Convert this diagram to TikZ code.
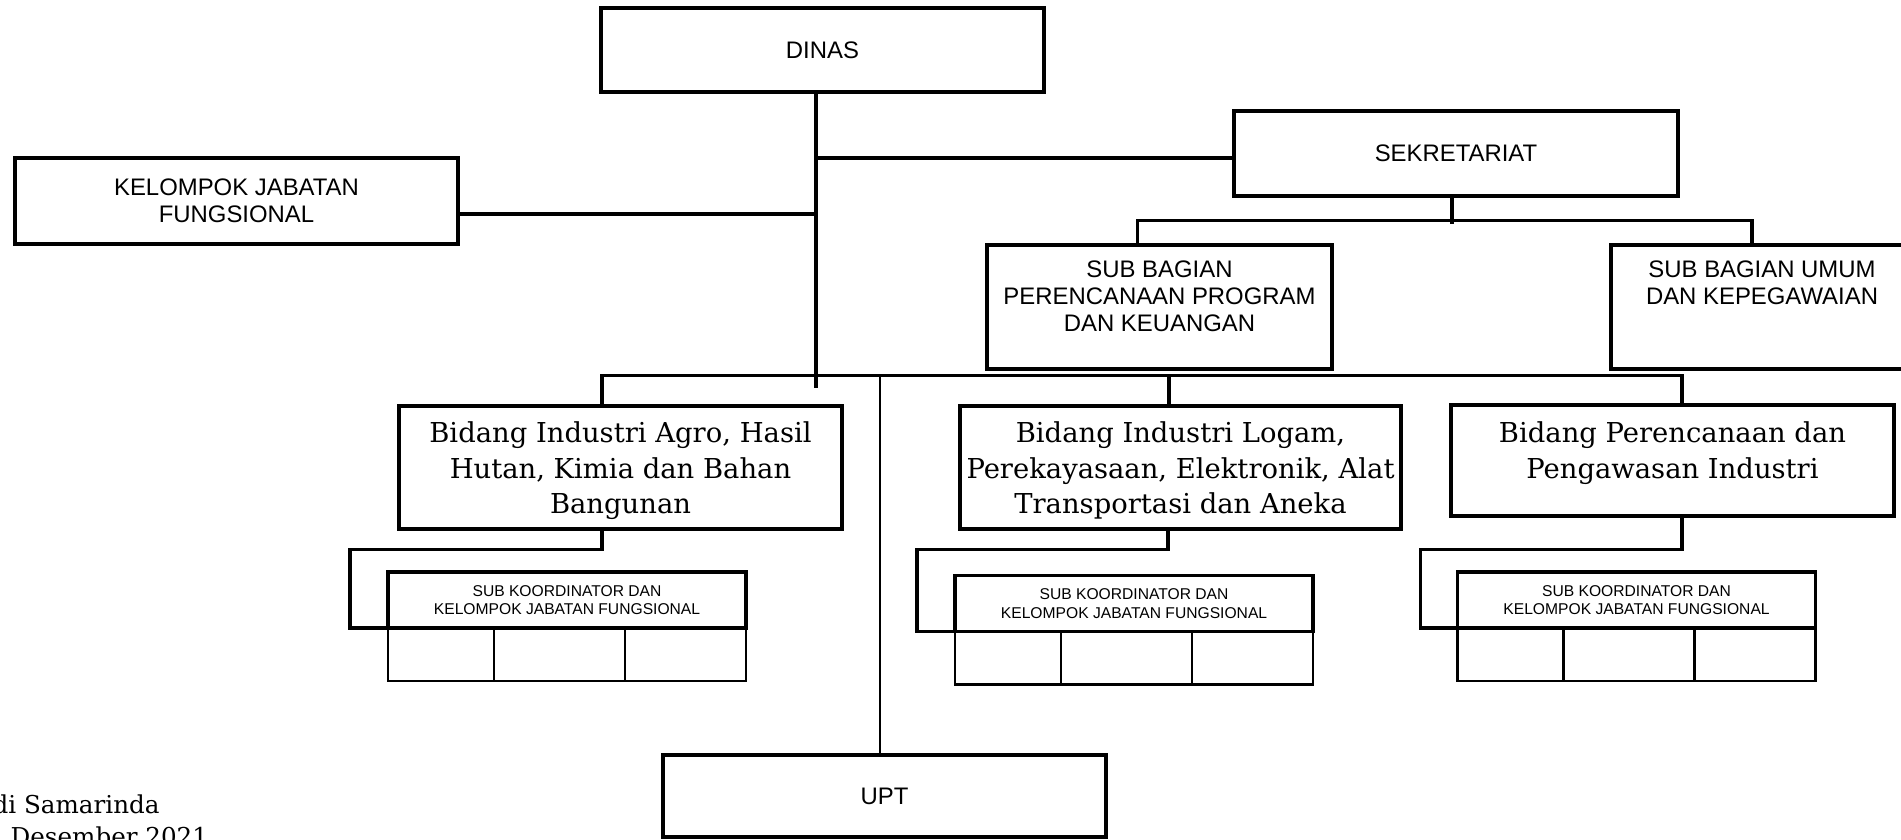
\documentclass[tikz,border=0pt]{standalone}
\usepackage{fontspec}
\setmainfont{DejaVu Serif}
\newfontfamily\arialfont{Liberation Sans}
\usetikzlibrary{positioning, calc}

\begin{document}
\begin{tikzpicture}[
    x=0.1mm, y=-0.1mm,
    unit/.style={rectangle, draw, line width=0.33mm, minimum width=44.3mm, inner sep=0pt, align=center, font=\arialfont\fontsize{6.8}{7.6}\selectfont},
    frame/.style={rectangle, draw, line width=0.33mm, inner sep=0pt},
    toptext/.style={inner sep=0pt, align=center, font=\arialfont\fontsize{6.8}{7.6}\selectfont},
    bidtext/.style={inner sep=0pt, align=center, font=\fontsize{7.8}{10}\selectfont},
    notetext/.style={inner sep=0pt, font=\fontsize{7}{9}\selectfont},
    koord/.style={rectangle, draw, line width=0.33mm, outer sep=0pt, minimum width=35.8mm, minimum height=5.6mm, inner sep=0pt, align=center, font=\arialfont\fontsize{4.45}{5.2}\selectfont},
    cell/.style={rectangle, draw, line width=0.28mm, outer sep=0pt, minimum height=5.3mm, inner sep=0pt, anchor=north west},
    link/.style={line width=0.35mm},
    thinlink/.style={line width=0.12mm}
]
\useasboundingbox (0,0) rectangle (1901,839);
\clip (0,0) rectangle (1901,839);

% Pimpinan
\node[unit, minimum height=8.4mm] (dinas) at (822.5,50) {DINAS};
\node[unit, minimum height=8.6mm] (kjf) at (236.5,201) {KELOMPOK JABATAN\\FUNGSIONAL};
\node[unit, minimum width=44.4mm, minimum height=8.5mm] (sekretariat) at (1456,153.5) {SEKRETARIAT};

% Sub bagian
\node[frame, minimum width=34.5mm, minimum height=12.4mm] (subprogram) at (1159.5,307) {};
\node[toptext, below=1.7mm of subprogram.north] (subprogramtext) {SUB BAGIAN\\PERENCANAAN PROGRAM\\DAN KEUANGAN};
\node[frame, minimum width=30.2mm, minimum height=12.4mm] (subumum) at (1762,307) {};
\node[toptext, below=1.7mm of subumum.north] (subumumtext) {SUB BAGIAN UMUM\\DAN KEPEGAWAIAN};

% Bidang
\node[frame, minimum width=44.3mm, minimum height=12.3mm] (bidagro) at (620.5,467.5) {};
\node[bidtext, below=1.7mm of bidagro.north] (bidagrotext) {Bidang Industri Agro, Hasil\\Hutan, Kimia dan Bahan\\Bangunan};
\node[frame, minimum width=44.1mm, minimum height=12.3mm] (bidlogam) at (1180.5,467.5) {};
\node[bidtext, below=1.7mm of bidlogam.north] (bidlogamtext) {Bidang Industri Logam,\\Perekayasaan, Elektronik, Alat\\Transportasi dan Aneka};
\node[frame, minimum width=44.3mm, minimum height=11.1mm] (bidrenwas) at (1672.5,460.5) {};
\node[bidtext, below=1.8mm of bidrenwas.north] (bidrenwastext) {Bidang Perencanaan dan\\Pengawasan Industri};

% Sub koordinator
\node[koord] (koordA) at (567,600) {SUB KOORDINATOR DAN\\KELOMPOK JABATAN FUNGSIONAL};
\node[cell, minimum width=10.6mm] (koordA1) at (koordA.south west) {};
\node[cell, minimum width=13.1mm] (koordA2) at (koordA1.north east) {};
\node[cell, minimum width=12.1mm] (koordA3) at (koordA2.north east) {};

\node[koord] (koordB) at (1134,603.5) {SUB KOORDINATOR DAN\\KELOMPOK JABATAN FUNGSIONAL};
\node[cell, minimum width=10.6mm] (koordB1) at (koordB.south west) {};
\node[cell, minimum width=13.1mm] (koordB2) at (koordB1.north east) {};
\node[cell, minimum width=12.1mm] (koordB3) at (koordB2.north east) {};

\node[koord] (koordC) at (1636.5,600) {SUB KOORDINATOR DAN\\KELOMPOK JABATAN FUNGSIONAL};
\node[cell, minimum width=10.6mm] (koordC1) at (koordC.south west) {};
\node[cell, minimum width=13.1mm] (koordC2) at (koordC1.north east) {};
\node[cell, minimum width=12.1mm] (koordC3) at (koordC2.north east) {};

% UPT
\node[unit, minimum height=8.2mm] (upt) at (884.5,796) {UPT};

% Garis komando
\coordinate (spine) at (816,388);
\draw[link] (dinas.south -| spine) -- (spine);
\draw[link] ([yshift=-0.45mm]sekretariat.west) -- ([yshift=-0.45mm]sekretariat.west -| spine);
\draw[link] ([yshift=-1.3mm]kjf.east) -- ([yshift=-1.3mm]kjf.east -| spine);

\draw[link] ([xshift=-0.4mm]sekretariat.south) -- ++(0,26);
\draw[link] ([xshift=-2.2mm]subprogram.north) -- ++(0,-23) -| ([xshift=-1mm]subumum.north);

\draw[link] ([xshift=-1.85mm]bidagro.north) -- ++(0,-29) -| ([xshift=0.95mm]bidrenwas.north);
\draw[link] ([xshift=-1.15mm]bidlogam.north) -- ++(0,-29);
\draw[thinlink] ([xshift=-0.45mm]upt.north) -- ++(0,-378);

% Bidang ke sub koordinator
\draw[link] ([xshift=-1.85mm]bidagro.south) -- ++(0,19) -| ([xshift=-3.8mm]koordA.south west) -- (koordA.south west);
\draw[link] ([xshift=-1.25mm]bidlogam.south) -- ++(0,19) -| ([xshift=-3.8mm]koordB.south west) -- (koordB.south west);
\draw[link] ([xshift=0.95mm]bidrenwas.south) -- ++(0,32) -| ([xshift=-3.7mm]koordC.south west) -- (koordC.south west);

% Tempat dan tanggal
\node[notetext, anchor=base west] (tempat) at (-8,813) {di Samarinda};
\node[notetext, anchor=base west] (tanggal) at (10,845) {Desember 2021};

\end{tikzpicture}
\end{document}
